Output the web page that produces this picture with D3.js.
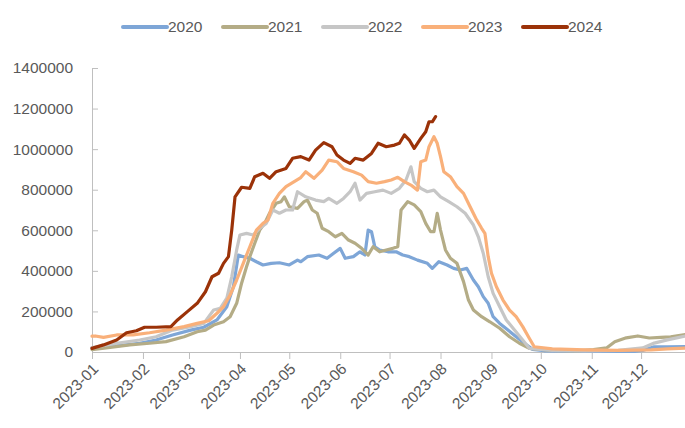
<!DOCTYPE html>
<html>
<head>
<meta charset="utf-8">
<script src="https://cdn.jsdelivr.net/npm/d3@7"></script>
<style>
  html, body { margin: 0; padding: 0; background: #fff; }
  svg { display: block; font-family: "Liberation Sans", Arial, sans-serif; }
</style>
</head>
<body>
<svg id="chart" width="685" height="428"></svg>
<script>
// ---- data (day of year 2023 index, value) ----
const seriesNames = ["2020", "2021", "2022", "2023", "2024"];
const yTicks = [0, 200000, 400000, 600000, 800000, 1000000, 1200000, 1400000];

const days2020 = [0, 3, 15, 29, 39, 49, 60, 68, 76, 82, 86, 89, 92, 96, 100, 104, 109, 114, 120, 125, 127, 131, 138, 143, 147, 151, 154, 159, 163, 166, 168, 170, 172, 175, 180, 185, 189, 193, 198, 204, 207, 211, 216, 220, 224, 228, 232, 235, 238, 241, 244, 248, 253, 258, 263, 268, 275, 290, 310, 330, 335, 342, 350, 364];
const vals2020 = [20000, 23000, 30000, 43000, 59000, 84000, 108000, 122000, 158000, 223000, 322000, 478000, 470000, 462000, 445000, 429000, 437000, 440000, 429000, 453000, 445000, 470000, 478000, 462000, 487000, 511000, 462000, 470000, 494000, 478000, 601000, 593000, 519000, 503000, 494000, 494000, 478000, 470000, 453000, 437000, 412000, 445000, 429000, 412000, 404000, 412000, 355000, 322000, 273000, 240000, 174000, 141000, 108000, 75000, 43000, 13000, 6000, 4000, 3000, 3000, 8000, 26000, 26000, 27000];

const days2021 = [0, 11, 23, 35, 45, 56, 64, 69, 74, 80, 84, 88, 91, 94, 96, 99, 102, 105, 108, 112, 115, 117, 120, 125, 129, 131, 134, 137, 140, 144, 148, 152, 156, 160, 164, 168, 171, 175, 179, 183, 186, 188, 192, 196, 200, 203, 206, 208, 210, 212, 215, 218, 222, 226, 229, 232, 237, 242, 248, 254, 260, 266, 280, 295, 305, 313, 318, 325, 332, 339, 346, 352, 364];
const vals2021 = [12000, 23000, 35000, 43000, 51000, 75000, 100000, 108000, 133000, 149000, 174000, 240000, 339000, 420000, 470000, 536000, 601000, 634000, 684000, 733000, 741000, 765000, 716000, 708000, 741000, 749000, 700000, 684000, 610000, 593000, 568000, 585000, 552000, 536000, 511000, 478000, 519000, 494000, 503000, 511000, 519000, 700000, 741000, 725000, 692000, 634000, 593000, 593000, 684000, 601000, 503000, 462000, 437000, 347000, 256000, 207000, 174000, 149000, 117000, 75000, 43000, 18000, 8000, 6000, 12000, 20000, 51000, 70000, 79000, 69000, 72000, 75000, 89000];

const days2022 = [0, 3, 15, 29, 39, 49, 60, 68, 74, 78, 82, 85, 88, 90, 94, 98, 102, 106, 110, 114, 118, 122, 125, 130, 136, 141, 144, 149, 153, 157, 160, 163, 167, 172, 177, 182, 187, 191, 194, 196, 200, 204, 208, 212, 217, 222, 227, 232, 235, 238, 241, 244, 248, 252, 257, 262, 266, 280, 300, 320, 335, 342, 350, 364];
const vals2022 = [22000, 26000, 43000, 59000, 75000, 108000, 125000, 141000, 207000, 215000, 265000, 371000, 503000, 577000, 585000, 577000, 610000, 634000, 700000, 684000, 700000, 700000, 790000, 765000, 749000, 741000, 757000, 733000, 757000, 790000, 832000, 749000, 782000, 790000, 798000, 782000, 807000, 848000, 913000, 840000, 807000, 790000, 798000, 765000, 741000, 716000, 684000, 626000, 568000, 487000, 371000, 289000, 223000, 158000, 108000, 59000, 18000, 8000, 5000, 8000, 20000, 44000, 60000, 84000];

const days2023 = [0, 2, 7, 15, 25, 35, 45, 56, 64, 71, 76, 80, 84, 88, 92, 96, 100, 104, 107, 110, 114, 118, 123, 127, 130, 135, 140, 144, 149, 153, 159, 164, 168, 173, 178, 182, 186, 190, 194, 198, 200, 203, 205, 208, 210, 212, 214, 218, 222, 226, 230, 234, 237, 239, 241, 243, 246, 250, 254, 258, 262, 266, 269, 280, 300, 320, 340, 350, 364];
const vals2023 = [78000, 79000, 72000, 84000, 84000, 95000, 108000, 125000, 141000, 154000, 191000, 223000, 281000, 355000, 437000, 519000, 601000, 634000, 651000, 733000, 782000, 815000, 840000, 860000, 889000, 856000, 897000, 946000, 938000, 905000, 889000, 872000, 840000, 832000, 840000, 848000, 861000, 840000, 823000, 798000, 938000, 946000, 1012000, 1061000, 1029000, 963000, 889000, 864000, 815000, 782000, 716000, 651000, 610000, 585000, 470000, 388000, 322000, 256000, 207000, 174000, 125000, 68000, 26000, 15000, 10000, 8000, 10000, 15000, 21000];

const days2024 = [0, 7, 15, 21, 27, 32, 39, 48, 52, 58, 64, 69, 73, 77, 80, 83, 85, 87, 91, 96, 99, 104, 108, 112, 118, 122, 127, 132, 136, 141, 146, 149, 153, 157, 160, 165, 170, 174, 179, 184, 187, 190, 193, 196, 200, 203, 205, 207, 209];
const vals2024 = [18000, 35000, 59000, 95000, 105000, 122000, 122000, 125000, 158000, 199000, 240000, 297000, 371000, 388000, 437000, 470000, 601000, 765000, 812000, 807000, 864000, 881000, 856000, 889000, 905000, 955000, 963000, 946000, 995000, 1032000, 1012000, 971000, 946000, 930000, 955000, 946000, 979000, 1029000, 1012000, 1020000, 1029000, 1070000, 1045000, 1004000, 1053000, 1086000, 1135000, 1135000, 1160000];

// ---- styles ----
const colors = ["#7ea6d7", "#b4ac86", "#c6c6c6", "#f9b07a", "#9b3208"];

const allDays = [days2020, days2021, days2022, days2023, days2024];
const allVals = [vals2020, vals2021, vals2022, vals2023, vals2024];

const svg = d3.select("#chart");
const base = new Date(2023, 0, 1);
const toDate = d => d3.timeDay.offset(base, d);

const x = d3.scaleTime()
  .domain([new Date(2023, 0, 1), new Date(2023, 11, 31)])
  .range([92, 690.4]);
const y = d3.scaleLinear().domain([0, 1400000]).range([352, 68]);

const axisColor = "#bfbfbf";
const textColor = "#595959";

// Y axis
const yAxis = svg.append("g").attr("transform", "translate(92,0)")
  .call(d3.axisLeft(y).tickValues(yTicks).tickFormat(d3.format("d")).tickSize(-6).tickSizeOuter(0).tickPadding(19));
yAxis.select(".domain").attr("stroke", axisColor);
yAxis.selectAll(".tick line").attr("stroke", axisColor);
yAxis.selectAll(".tick text").attr("fill", textColor).style("font-size", "15.5px");

// X axis
const xAxis = svg.append("g").attr("transform", "translate(0,352)")
  .call(d3.axisBottom(x).ticks(d3.timeMonth.every(1)).tickFormat(d3.timeFormat("%Y-%m")).tickSize(7).tickSizeOuter(0));
xAxis.select(".domain").attr("stroke", axisColor);
xAxis.selectAll(".tick line").attr("stroke", axisColor);
xAxis.selectAll(".tick text")
  .attr("fill", textColor).style("font-size", "15.5px")
  .attr("text-anchor", "end")
  .attr("y", 0).attr("dy", "0.35em")
  .attr("transform", "translate(3,14) rotate(-45)");

// lines
const line = d3.line().x(d => x(d[0])).y(d => y(d[1]));
seriesNames.forEach((name, i) => {
  const pts = allDays[i].map((d, j) => [toDate(d), allVals[i][j]]);
  svg.append("path").datum(pts)
    .attr("d", line)
    .attr("fill", "none")
    .attr("stroke", colors[i])
    .attr("stroke-width", 3.2)
    .attr("stroke-linejoin", "round")
    .attr("stroke-linecap", "round");
});

// legend
const lx = d3.scalePoint().domain(seriesNames).range([123, 523]);
const leg = svg.append("g");
seriesNames.forEach((name, i) => {
  const g = leg.append("g").attr("transform", `translate(${lx(name)},27)`);
  g.append("line").attr("x1", 0).attr("x2", 44).attr("y1", 0).attr("y2", 0)
    .attr("stroke", colors[i]).attr("stroke-width", 4).attr("stroke-linecap", "round");
  g.append("text").attr("x", 45).attr("y", 0).attr("dy", "0.35em")
    .attr("fill", textColor).style("font-size", "15.5px").text(name);
});
</script>
</body>
</html>
